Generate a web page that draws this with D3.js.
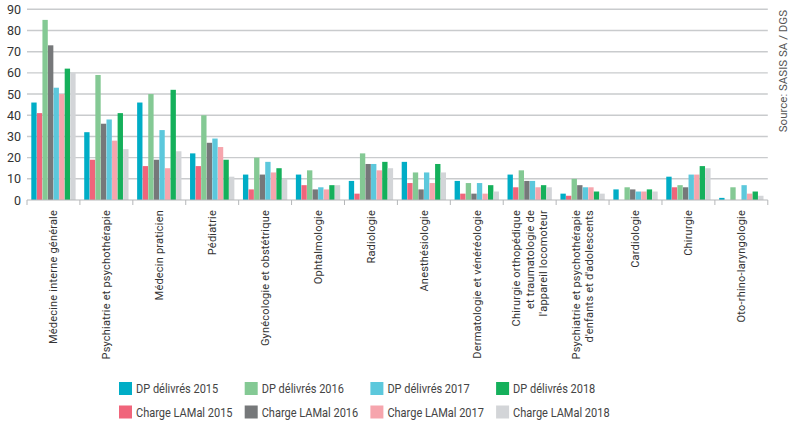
<!DOCTYPE html>
<html>
<head>
<meta charset="utf-8">
<script src="https://cdn.jsdelivr.net/npm/d3@7"></script>
<style>
  body { margin: 0; background: #fff; }
  text { font-family: Roboto, "Noto Sans", sans-serif; }
</style>
</head>
<body>
<div id="chart"></div>
<script>
const categories = [
  ['Médecine interne générale'],
  ['Psychiatrie et psychothérapie'],
  ['Médecin praticien'],
  ['Pédiatrie'],
  ['Gynécologie et obstétrique'],
  ['Ophtalmologie'],
  ['Radiologie'],
  ['Anesthésiologie'],
  ['Dermatologie et vénéréologie'],
  ['Chirurgie orthopédique', 'et traumatologie de', "l'appareil locomoteur"],
  ['Psychiatrie et psychothérapie', "d'enfants et d'adolescents"],
  ['Cardiologie'],
  ['Chirurgie'],
  ['Oto-rhino-laryngologie']
]

const dp2015     = [46, 32, 46, 22, 12, 12,  9, 18, 9, 12,  3, 5, 11, 1]
const charge2015 = [41, 19, 16, 16,  5,  7,  3,  8, 3,  6,  2, 0,  6, 0]
const dp2016     = [85, 59, 50, 40, 20, 14, 22, 13, 8, 14, 10, 6,  7, 6]
const charge2016 = [73, 36, 19, 27, 12,  5, 17,  5, 3,  9,  7, 5,  6, 0]
const dp2017     = [53, 38, 33, 29, 18,  6, 17, 13, 8,  9,  6, 4, 12, 7]
const charge2017 = [50, 28, 15, 25, 13,  5, 14,  8, 3,  6,  6, 4, 12, 3]
const dp2018     = [62, 41, 52, 19, 15,  7, 18, 17, 7,  7,  4, 5, 16, 4]
const charge2018 = [60, 24, 23, 11, 10,  7, 15, 13, 4,  6,  3, 4, 15, 2]

const yTicks = [0, 10, 20, 30, 40, 50, 60, 70, 80, 90]

const series = [
  { name: 'DP délivrés 2015', values: dp2015, color: '#00adc6' },
  { name: 'Charge LAMal 2015', values: charge2015, color: '#f0657b' },
  { name: 'DP délivrés 2016', values: dp2016, color: '#84c994' },
  { name: 'Charge LAMal 2016', values: charge2016, color: '#76787a' },
  { name: 'DP délivrés 2017', values: dp2017, color: '#5cc8dc' },
  { name: 'Charge LAMal 2017', values: charge2017, color: '#f6a5ad' },
  { name: 'DP délivrés 2018', values: dp2018, color: '#15b05b' },
  { name: 'Charge LAMal 2018', values: charge2018, color: '#d3d5d8' }
]

const width = 793
const height = 426
const margin = { top: 9.3, left: 27, right: 25.2, bottom: 226 }

const svg = d3.select('#chart').append('svg')
  .attr('width', width)
  .attr('height', height)

const keys = categories.map(c => c.join(' '))

const x0 = d3.scaleBand()
  .domain(keys)
  .range([margin.left, width - margin.right])

const x1 = d3.scaleBand()
  .domain(series.map(s => s.name))
  .range([4.3, x0.bandwidth() - 4.3])
  .paddingInner(0.04)

const y = d3.scaleLinear()
  .domain([0, 90])
  .range([height - margin.bottom, margin.top])

// gridlines
svg.append('g')
  .selectAll('line')
  .data(yTicks.filter(d => d > 0))
  .join('line')
  .attr('x1', margin.left)
  .attr('x2', width - margin.right)
  .attr('y1', d => y(d))
  .attr('y2', d => y(d))
  .attr('stroke', '#c9cbcd')
  .attr('stroke-width', 1.4)

// y labels
svg.append('g')
  .selectAll('text')
  .data(yTicks)
  .join('text')
  .attr('x', 21)
  .attr('y', d => y(d))
  .attr('dy', '0.36em')
  .attr('text-anchor', 'end')
  .attr('font-size', 12.5)
  .attr('fill', '#333')
  .text(d => d)

// bars
const groups = svg.append('g')
  .selectAll('g')
  .data(keys)
  .join('g')
  .attr('transform', d => `translate(${x0(d)},0)`)

groups.selectAll('rect')
  .data((k, i) => series.map(s => ({ name: s.name, value: s.values[i], color: s.color })))
  .join('rect')
  .attr('x', d => x1(d.name))
  .attr('width', x1.bandwidth())
  .attr('y', d => y(d.value))
  .attr('height', d => y(0) - y(d.value))
  .attr('fill', d => d.color)

// x axis
const xAxis = svg.append('g')
  .attr('transform', `translate(0,${y(0)})`)

xAxis.append('line')
  .attr('x1', margin.left)
  .attr('x2', width - margin.right)
  .attr('stroke', '#b5b7b9')
  .attr('stroke-width', 1)

xAxis.selectAll('.tick')
  .data(keys.map(k => x0(k)).concat([width - margin.right]))
  .join('line')
  .attr('x1', d => d)
  .attr('x2', d => d)
  .attr('y1', 0)
  .attr('y2', 5)
  .attr('stroke', '#b5b7b9')

// category labels
const labels = svg.append('g')
  .selectAll('text')
  .data(categories)
  .join('text')
  .attr('transform', (c, i) => `translate(${x0(keys[i]) + x0.bandwidth() / 2},210) rotate(-90)`)
  .attr('text-anchor', 'end')
  .attr('font-size', 11)
  .attr('fill', '#333')
  .attr('letter-spacing', 0.2)

labels.selectAll('tspan')
  .data(c => c.map((line, j) => ({ line, j, n: c.length })))
  .join('tspan')
  .attr('x', 0)
  .attr('y', d => (d.j - (d.n - 1) / 2) * 13.6)
  .attr('dy', '0.35em')
  .text(d => d.line)

// legend
const legendOrder = [0, 2, 4, 6, 1, 3, 5, 7]
const legend = svg.append('g')
  .selectAll('g')
  .data(legendOrder.map(i => series[i]))
  .join('g')
  .attr('transform', (d, i) => `translate(${119 + (i % 4) * 125.7},${382 + Math.floor(i / 4) * 23.5})`)

legend.append('rect')
  .attr('width', 13)
  .attr('height', 13)
  .attr('fill', d => d.color)

legend.append('text')
  .attr('transform', 'translate(17,6.5) scale(0.81,1)')
  .attr('dy', '0.36em')
  .attr('font-size', 13.6)
  .attr('fill', '#444')
  .text(d => d.name)

// source
svg.append('text')
  .attr('transform', 'translate(787,10) rotate(-90)')
  .attr('text-anchor', 'end')
  .attr('font-size', 11.5)
  .attr('fill', '#555')
  .text('Source: SASIS SA / DGS')
</script>
</body>
</html>
